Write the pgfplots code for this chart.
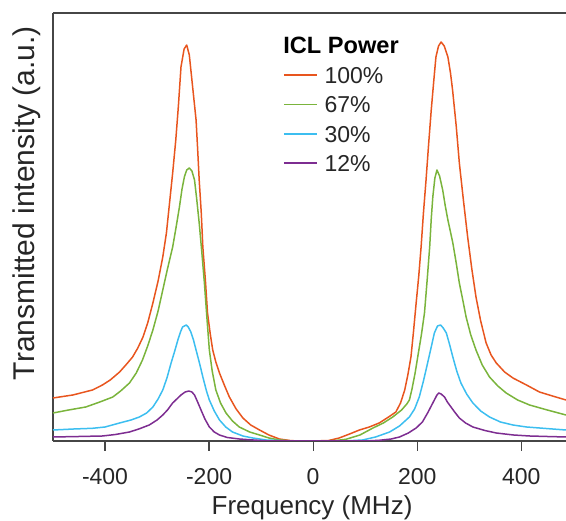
\documentclass[border=0pt]{standalone}
\usepackage{fontspec}
\setmainfont{Liberation Sans}
\usepackage{pgfplots}
\pgfplotsset{compat=1.18}
\definecolor{cred}{RGB}{232,85,30}
\definecolor{cgreen}{RGB}{122,180,60}
\definecolor{cblue}{RGB}{60,190,240}
\definecolor{cpurple}{RGB}{125,45,145}
\definecolor{axgray}{RGB}{70,70,70}
\begin{document}
\begin{tikzpicture}
\begin{axis}[
  scale only axis, width=256.5pt, height=214pt,
  xmin=-500, xmax=486, ymin=0, ymax=428,
  axis x line=box, axis y line=left,
  axis line style={-, draw=axgray, line width=0.6pt},
  xtick={-400,-200,0,200,400}, xticklabels={-400,-200,0,200,400},
  xtick pos=left, tick align=outside, major tick length=5pt,
  ytick=\empty,
  tick style={axgray, line width=0.6pt},
  xticklabel style={font=\fontsize{11.5}{13}\selectfont, text=black!85, anchor=north, inner sep=0pt, yshift=-8.5pt},
  xlabel={Frequency (MHz)},
  xlabel style={at={(rel axis cs:0.505,0)}, anchor=north, inner sep=0pt, yshift=-27pt, font=\fontsize{13}{15}\selectfont, text=black!85},
  ylabel={Transmitted intensity (a.u.)},
  ylabel style={at={([xshift=-6pt]rel axis cs:0,0.556)}, rotate=0, anchor=south, inner sep=0pt, font=\fontsize{15}{17}\selectfont, text=black!85},
  legend style={at={(rel axis cs:0.4483,0.752)}, anchor=west, draw=none, fill=none, inner sep=0pt, outer sep=0pt, row sep=6.5pt, column sep=3.5pt, font=\fontsize{11.5}{13}\selectfont, text=black!85, nodes={inner sep=0pt, text height=8.2pt, text depth=0pt}},
  legend cell align=left,
  legend image code/.code={\draw[#1, line width=0.8pt] (0pt,0pt) -- (16.5pt,0pt);},
  every axis plot/.append style={line width=0.75pt, line join=round},
]
\addplot[cred] coordinates {
(-500,43) (-462,46) (-424,51) (-405,56) (-390,61) (-372,69) (-360,76) (-347,84) (-337,93) (-327,104) (-318,118) (-308,138) (-298,160) (-289,184) (-282,208) (-276,238) (-270,268) (-264,301) (-259,335) (-254,374) (-248,392) (-243,396) (-238,386) (-233,361) (-229,341) (-225,321) (-222,292) (-219,261) (-215,228) (-212,194) (-207,160) (-203,128) (-198,108) (-193,91) (-187,79) (-180,68) (-170,55) (-161,44) (-148,32) (-135,23) (-120,16) (-103,11) (-85,6) (-65,2) (-45,0.5) (-30,0) (0,0) (30,0.5) (50,3) (70,7) (89,11) (108,14) (127,18) (145,24) (159,29) (168,38) (176,51) (182,66) (188,84) (193,110) (198,138) (203,165) (207.5,194) (212,228) (217,261) (222,297) (227,331) (232,361) (236,384) (241,395) (246,399) (252,395) (259,384) (264,368) (268,351) (275,315) (281,278) (289,240) (297,204) (305,172) (313,144) (322,120) (332.5,98) (342,86) (352,78) (368,69) (384,63) (410,56) (435,49) (460,45) (486,41)
};
\addlegendentry{100\%}
\addplot[cgreen] coordinates {
(-500,28) (-470,31) (-437,34) (-410,39) (-385,44) (-370,50) (-353,58) (-340,68) (-328,81) (-318,95) (-308,111) (-298,130) (-289,151) (-280,172) (-270,194) (-263,215) (-257,234) (-252,252) (-247.5,264) (-243,271) (-238,273) (-233,270) (-228,261) (-224,243) (-219,218) (-214,189) (-209,158) (-204,122) (-199.5,91) (-194,70) (-187,51) (-178,38) (-167.5,28) (-155,20) (-142,14) (-122,9) (-103,6) (-85,3) (-65,1) (-40,0) (0,0) (40,0.3) (63,1.7) (90,6) (115,13) (135,18) (153,24) (170,31) (180,37) (185,41) (190,52) (196,68) (201,84) (208,106) (214,128) (219,160) (224,194) (227,222) (230,244) (234,263) (238,271) (243,265) (249,251) (254,235) (259,221) (264,209) (268.5,198) (275,178) (281,158) (288,140) (294,124) (303,106) (313,91) (325,76) (339,64) (355,55) (371,48) (393,41) (416,36) (450,31) (486,26)
};
\addlegendentry{67\%}
\addplot[cblue] coordinates {
(-500,11) (-460,12) (-424,12.7) (-400,14) (-372,18) (-350,21) (-334,24) (-320,28) (-308,34) (-298,42) (-289,51) (-281,63) (-273,78) (-266,90) (-260,101) (-255,109) (-251,114) (-244,116) (-240,114) (-235,109) (-230,101) (-225,91) (-218,77) (-212,64) (-205,50) (-199.5,41) (-190,30) (-180,21) (-168,14) (-155,9) (-135,5) (-116,3) (-90,1) (-65,0.5) (-40,0) (0,0) (60,0) (95,1) (120,4) (147,9) (166,15) (185,24) (195,32) (204,44) (212,60) (220,78) (227,94) (233,108) (239,115) (245,116) (250,113) (256,108) (262,97) (268.5,84) (276,70) (284,58) (295,47) (307,38) (322,30) (339,24) (360,19) (384,16) (410,14) (435,13) (460,12) (486,11)
};
\addlegendentry{30\%}
\addplot[cpurple] coordinates {
(-500,4) (-450,4.5) (-405,5) (-380,6.5) (-353,9) (-335,12) (-315,16) (-300,21) (-289,26) (-280,31) (-270,38) (-262,42) (-254,46) (-246,49) (-239,50) (-233,49) (-228,46) (-222,39) (-215.5,31) (-208,22) (-199.5,14) (-190,9) (-180,6) (-165,3.5) (-142,2) (-115,1) (-85,0) (0,0) (100,0) (127,0.7) (150,2) (166,4) (183,8) (198,13) (210,19) (220,28) (227,35) (233,41) (238,46) (241.5,48) (246,47) (252.5,44) (258,39) (265,34) (272,29) (281,23) (293,18) (307,14) (330,10.5) (352,8) (385,6) (416,5) (450,4.5) (486,4)
};
\addlegendentry{12\%}
\node[anchor=base west, inner sep=0pt, font=\bfseries\fontsize{11.8}{14}\selectfont, text=black] at (rel axis cs:0.4483,0.9065) {ICL Power};
\end{axis}
\pgfresetboundingbox
\path[use as bounding box] ([xshift=-26.5pt,yshift=-40pt]current axis.south west) rectangle ([yshift=6.5pt]current axis.north east);
\end{tikzpicture}
\end{document}
